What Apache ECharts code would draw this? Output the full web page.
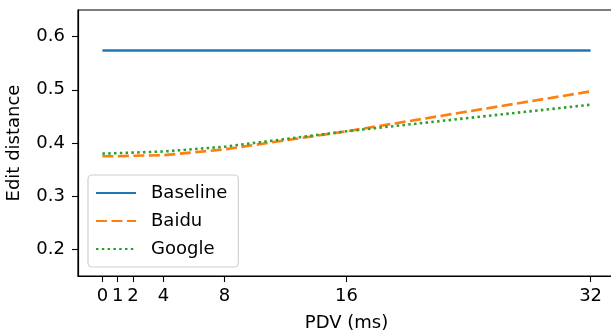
<!DOCTYPE html>
<html><head><meta charset="utf-8">
<script src="https://cdn.jsdelivr.net/npm/echarts@6/dist/echarts.min.js"></script>
<style>html,body{margin:0;padding:0;background:#fff}#c{width:611px;height:335px}</style>
</head><body><div id="c"></div>
<script>
const pdv = [0, 1, 2, 4, 8, 16, 32];
const xTicks = [0, 1, 2, 4, 8, 16, 32];
const yTicks = [0.2, 0.3, 0.4, 0.5, 0.6];
const baseline = [0.574, 0.574, 0.574, 0.574, 0.574, 0.574, 0.574];
const baidu = [0.375, 0.375, 0.376, 0.377, 0.388, 0.422, 0.497];
const google = [0.380, 0.381, 0.382, 0.384, 0.393, 0.422, 0.472];

const font = 'DejaVu Sans';
const fs = 18;
const pair = arr => pdv.map((x, i) => [x, arr[i]]);
const chart = echarts.init(document.getElementById('c'), null, {renderer: 'canvas'});
chart.setOption({
  animation: false,
  backgroundColor: '#fff',
  grid: {left: 78, top: 10, width: 537, height: 266, containLabel: false, outerBoundsMode: 'none',
    show: true, borderColor: '#000', borderWidth: 1.2, backgroundColor: 'transparent'},
  xAxis: {
    type: 'value', min: -1.6, max: 33.6,
    name: 'PDV (ms)', nameLocation: 'middle', nameGap: 38,
    nameTextStyle: {fontFamily: font, fontSize: fs, color: '#000'},
    axisLine: {show: true, onZero: false, lineStyle: {color: '#000', width: 1.2}},
    axisTick: {show: true, inside: false, length: 6, lineStyle: {color: '#000', width: 1.1}, customValues: xTicks},
    axisLabel: {fontFamily: font, fontSize: fs, color: '#000', margin: 11, customValues: xTicks},
    splitLine: {show: false}
  },
  yAxis: {
    type: 'value', min: 0.15, max: 0.65,
    name: 'Edit distance', nameLocation: 'middle', nameGap: 55,
    nameTextStyle: {fontFamily: font, fontSize: fs, color: '#000'},
    axisLine: {show: true, onZero: false, lineStyle: {color: '#000', width: 1.2}},
    axisTick: {show: true, inside: false, length: 6, lineStyle: {color: '#000', width: 1.1}, customValues: yTicks},
    axisLabel: {fontFamily: font, fontSize: fs, color: '#000', margin: 13, customValues: yTicks,
      formatter: v => v.toFixed(1)},
    splitLine: {show: false}
  },
  legend: {
    orient: 'vertical', left: 88, top: 175,
    itemWidth: 40, itemHeight: 18, itemGap: 10,
    padding: [9, 11, 9, 7],
    backgroundColor: 'rgba(255,255,255,0.8)',
    borderColor: '#d0d0d0', borderWidth: 1.2, borderRadius: 4,
    itemStyle: {opacity: 0},
    textStyle: {fontFamily: font, fontSize: fs, color: '#000', padding: [0, 0, 0, 10]},
    data: ['Baseline', 'Baidu', 'Google']
  },
  series: [
    {name: 'Baseline', type: 'line', data: pair(baseline), symbol: 'none', showSymbol: false,
      lineStyle: {color: '#1f77b4', width: 2.6}, itemStyle: {color: '#1f77b4'}, z: 2},
    {name: 'Baidu', type: 'line', data: pair(baidu), symbol: 'none', showSymbol: false,
      lineStyle: {color: '#ff7f0e', width: 2.6, type: [11, 4.5]}, itemStyle: {color: '#ff7f0e'}, z: 3},
    {name: 'Google', type: 'line', data: pair(google), symbol: 'none', showSymbol: false,
      lineStyle: {color: '#2ca02c', width: 2.6, type: [2.5, 3.3]}, itemStyle: {color: '#2ca02c'}, z: 4}
  ]
});
</script></body></html>
